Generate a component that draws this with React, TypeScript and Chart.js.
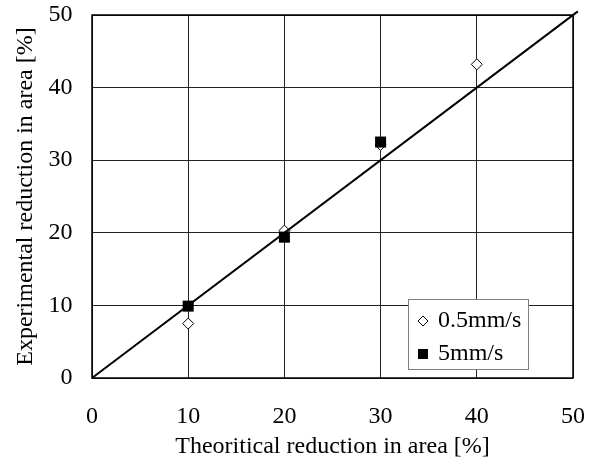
import React, { useEffect, useRef } from "react";
import { Chart, registerables } from "chart.js";

Chart.register(...registerables);

const seriesLabels = ["0.5mm/s", "5mm/s"];
const slowX = [10, 20, 30, 40];
const slowY = [7.5, 20.3, 32.1, 43.2];
const fastX = [10, 20, 30];
const fastY = [9.9, 19.4, 32.5];
const refLineX = [0, 50.5];
const refLineY = [0, 50.5];
const axisMin = 0;
const axisMax = 50;
const axisStep = 10;
const xTitle = "Theoritical reduction in area [%]";
const yTitle = "Experimental reduction in area [%]";

const FONT = "'Liberation Serif', 'Times New Roman', serif";
const FS = 24;

export default function App() {
  const ref = useRef<HTMLCanvasElement>(null);

  useEffect(() => {
    if (!ref.current) return;
    const frame = {
      id: "frame",
      afterDatasetsDraw(chart: any) {
        const { ctx, chartArea: a } = chart;
        ctx.save();
        ctx.strokeStyle = "#000";
        ctx.lineWidth = 1.5;
        ctx.strokeRect(a.left, a.top, a.right - a.left, a.bottom - a.top);
        ctx.restore();
      },
      afterDraw(chart: any) {
        const { ctx, chartArea: a } = chart;
        const right = a.right - 45;
        const bottom = a.bottom - 9;
        const w = 120;
        const h = 70;
        const left = right - w;
        const top = bottom - h;
        ctx.save();
        ctx.fillStyle = "#fff";
        ctx.fillRect(left, top, w, h);
        ctx.strokeStyle = "#808080";
        ctx.lineWidth = 1;
        ctx.strokeRect(left + 0.5, top + 0.5, w, h);
        ctx.font = `${FS}px ${FONT}`;
        ctx.textBaseline = "middle";
        ctx.textAlign = "left";
        const rows = [top + 22, top + 55];
        const dx = left + 15;
        ctx.beginPath();
        ctx.moveTo(dx, rows[0] - 5);
        ctx.lineTo(dx + 5, rows[0]);
        ctx.lineTo(dx, rows[0] + 5);
        ctx.lineTo(dx - 5, rows[0]);
        ctx.closePath();
        ctx.fillStyle = "#fff";
        ctx.fill();
        ctx.strokeStyle = "#000";
        ctx.lineWidth = 1;
        ctx.stroke();
        ctx.fillStyle = "#000";
        ctx.fillRect(dx - 5, rows[1] - 5, 10, 10);
        ctx.fillText(seriesLabels[0], left + 30, rows[0]);
        ctx.fillText(seriesLabels[1], left + 30, rows[1]);
        ctx.restore();
      },
    };

    const chart = new Chart(ref.current, {
      type: "scatter",
      data: {
        datasets: [
          {
            label: seriesLabels[0],
            data: slowX.map((x, i) => ({ x, y: slowY[i] })),
            pointStyle: "rectRot",
            pointRadius: 5.5,
            pointBackgroundColor: "#fff",
            pointBorderColor: "#000",
            pointBorderWidth: 1,
            order: 3,
          },
          {
            label: "ref",
            type: "line",
            data: refLineX.map((x, i) => ({ x, y: refLineY[i] })),
            borderColor: "#000",
            borderWidth: 2,
            pointRadius: 0,
            fill: false,
            clip: false as any,
            order: 2,
          } as any,
          {
            label: seriesLabels[1],
            data: fastX.map((x, i) => ({ x, y: fastY[i] })),
            pointStyle: "rect",
            pointRadius: 7.8,
            pointBackgroundColor: "#000",
            pointBorderColor: "#000",
            pointBorderWidth: 0,
            order: 1,
          },
        ],
      },
      options: {
        animation: false,
        responsive: true,
        maintainAspectRatio: false,
        layout: { padding: { top: 15, right: 19, bottom: 0, left: 0 } },
        plugins: { legend: { display: false }, tooltip: { enabled: false } },
        scales: {
          x: {
            type: "linear",
            min: axisMin,
            max: axisMax,
            ticks: {
              stepSize: axisStep,
              color: "#000",
              font: { family: FONT, size: FS },
              padding: 24.5,
              maxRotation: 0,
            },
            grid: { color: "#222", lineWidth: 1, drawTicks: false },
            border: { display: false },
            title: {
              display: true,
              text: xTitle,
              color: "#000",
              font: { family: FONT, size: FS },
              padding: { top: 0, bottom: 0 },
            },
            afterFit: (s: any) => {
              s.height = 83;
              s.paddingLeft = 0;
              s.paddingRight = 0;
            },
          },
          y: {
            type: "linear",
            min: axisMin,
            max: axisMax,
            ticks: {
              stepSize: axisStep,
              color: "#000",
              font: { family: FONT, size: FS },
              padding: 19.5,
            },
            grid: { color: "#222", lineWidth: 1, drawTicks: false },
            border: { display: false },
            title: {
              display: true,
              text: yTitle,
              color: "#000",
              font: { family: FONT, size: FS },
              padding: { top: 11, bottom: 0 },
            },
            afterFit: (s: any) => {
              s.width = 92;
              s.paddingTop = 0;
              s.paddingBottom = 0;
            },
          },
        },
      },
      plugins: [frame],
    });
    return () => chart.destroy();
  }, []);

  return (
    <div style={{ position: "absolute", left: 0, top: 0, width: 592, height: 461, background: "#fff" }}>
      <canvas ref={ref} />
    </div>
  );
}
